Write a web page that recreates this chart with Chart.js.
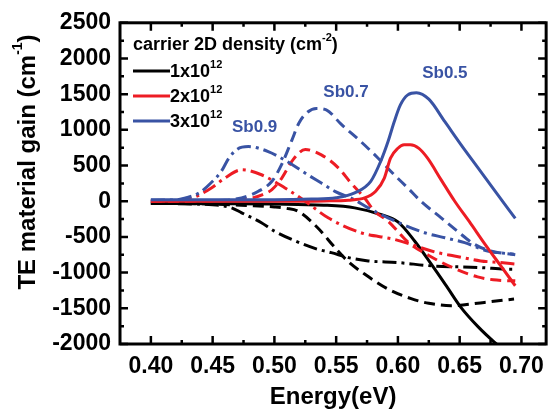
<!DOCTYPE html>
<html>
<head>
<meta charset="utf-8">
<script src="https://cdn.jsdelivr.net/npm/chart.js@4.4.1/dist/chart.umd.min.js"></script>
<style>
body { margin: 0; background: #fff; }
</style>
</head>
<body>
<canvas id="grafico" width="553" height="410"></canvas>
<script>
// eixos
const xTicks = [0.40, 0.45, 0.50, 0.55, 0.60, 0.65, 0.70];
const xTickLabels = ["0.40", "0.45", "0.50", "0.55", "0.60", "0.65", "0.70"];
const yTicks = [-2000, -1500, -1000, -500, 0, 500, 1000, 1500, 2000, 2500];
const yTickLabels = ["-2000", "-1500", "-1000", "-500", "0", "500", "1000", "1500", "2000", "2500"];

// Sb0.5 (linha cheia)
const sb05_n3_e = [0.40, 0.45, 0.50, 0.53, 0.55, 0.565, 0.578, 0.586, 0.592, 0.597, 0.602, 0.608, 0.615, 0.625, 0.638, 0.651, 0.665, 0.68, 0.695];
const sb05_n3_g = [20, 20, 20, 30, 50, 116, 279, 557, 836, 1114, 1350, 1490, 1520, 1430, 1114, 794, 464, 110, -240];
const sb05_n2_e = [0.40, 0.45, 0.50, 0.54, 0.56, 0.573, 0.582, 0.589, 0.594, 0.600, 0.605, 0.610, 0.617, 0.624, 0.635, 0.646, 0.658, 0.67, 0.683, 0.695];
const sb05_n2_g = [0, 0, 0, 5, 15, 46, 140, 325, 603, 742, 790, 790, 740, 603, 300, 0, -290, -590, -900, -1184];
const sb05_n1_e = [0.40, 0.45, 0.50, 0.54, 0.565, 0.586, 0.600, 0.6135, 0.627, 0.640, 0.651, 0.665, 0.678, 0.69];
const sb05_n1_g = [-30, -35, -40, -55, -93, -186, -290, -557, -882, -1207, -1486, -1760, -1974, -2150];

// Sb0.7 (tracejada)
const sb07_n3_e = [0.40, 0.44, 0.46, 0.468, 0.478, 0.487, 0.498, 0.506, 0.514, 0.520, 0.527, 0.534, 0.542, 0.554, 0.570, 0.584, 0.597, 0.608, 0.6186, 0.635, 0.648, 0.662, 0.675, 0.695];
const sb07_n3_g = [10, 10, 15, 28, 70, 139, 280, 520, 850, 1100, 1250, 1300, 1280, 1080, 836, 603, 371, 186, 0, -232, -418, -603, -696, -750];
const sb07_n2_e = [0.40, 0.45, 0.47, 0.482, 0.490, 0.498, 0.506, 0.515, 0.525, 0.538, 0.552, 0.562, 0.573, 0.581, 0.592, 0.608, 0.625, 0.643, 0.6645, 0.68, 0.695];
const sb07_n2_g = [0, 5, 15, 46, 90, 163, 325, 580, 725, 650, 464, 255, 46, -139, -279, -570, -760, -920, -1060, -1105, -1115];
const sb07_n1_e = [0.40, 0.45, 0.48, 0.50, 0.51, 0.519, 0.535, 0.549, 0.56, 0.573, 0.592, 0.6107, 0.625, 0.643, 0.67, 0.694];
const sb07_n1_g = [-20, -40, -60, -80, -100, -139, -371, -650, -850, -1020, -1230, -1365, -1430, -1463, -1417, -1370];

// Sb0.9 (traço-ponto)
const sb09_n3_e = [0.40, 0.42, 0.428, 0.439, 0.450, 0.457, 0.463, 0.470, 0.479, 0.495, 0.511, 0.527, 0.538, 0.549, 0.564, 0.576, 0.592, 0.6215, 0.638, 0.654, 0.6726, 0.694];
const sb09_n3_g = [15, 20, 46, 116, 280, 418, 600, 730, 766, 696, 550, 371, 255, 139, 28, -93, -232, -441, -511, -580, -696, -743];
const sb09_n2_e = [0.40, 0.42, 0.434, 0.449, 0.460, 0.4735, 0.4895, 0.5086, 0.525, 0.5435, 0.570, 0.597, 0.632, 0.6457, 0.667, 0.683, 0.695];
const sb09_n2_g = [0, 10, 50, 186, 325, 441, 371, 186, 0, -232, -441, -534, -720, -766, -836, -859, -880];
const sb09_n1_e = [0.40, 0.45, 0.465, 0.4735, 0.4895, 0.50, 0.517, 0.535, 0.546, 0.56, 0.576, 0.60, 0.627, 0.667, 0.686, 0.695];
const sb09_n1_g = [-30, -50, -90, -162, -302, -418, -557, -673, -720, -790, -836, -859, -905, -929, -952, -955];

const legendaItens = ["1x10", "2x10", "3x10"];
const rotulosSb = [
    { texto: "Sb0.9", x: 0.484, y: 1040 },
    { texto: "Sb0.7", x: 0.558, y: 1530 },
    { texto: "Sb0.5", x: 0.638, y: 1790 }
];

const AZUL = "#3953a4";
const VERMELHO = "#ed1c24";
const PRETO = "#000000";
const FONTE = "'Liberation Sans', Arial, sans-serif";

function pontos(e, g) {
    return e.map((v, i) => ({ x: v, y: g[i] }));
}

function serie(e, g, cor, traco) {
    return {
        data: pontos(e, g),
        borderColor: cor,
        borderWidth: 3,
        borderDash: traco,
        pointRadius: 0,
        fill: false,
        cubicInterpolationMode: "monotone"
    };
}

const TRACEJADO = [11, 6];
const TRACO_PONTO = [14, 5, 3, 5];

function textoSobrescrito(ctx, partes, x, y, tam, peso) {
    let cx = x;
    partes.forEach(p => {
        const t = p.sup ? Math.round(tam * 0.6) : tam;
        ctx.font = (p.peso || peso) + " " + t + "px " + FONTE;
        ctx.fillText(p.t, cx, p.sup ? y - tam * 0.4 : y);
        cx += ctx.measureText(p.t).width;
    });
    return cx - x;
}

function larguraSobrescrito(ctx, partes, tam, peso) {
    let w = 0;
    partes.forEach(p => {
        const t = p.sup ? Math.round(tam * 0.6) : tam;
        ctx.font = (p.peso || peso) + " " + t + "px " + FONTE;
        w += ctx.measureText(p.t).width;
    });
    return w;
}

const moldura = {
    id: "moldura",
    afterDraw(chart) {
        const ctx = chart.ctx;
        const a = chart.chartArea;
        const sx = chart.scales.x;
        const sy = chart.scales.y;
        ctx.save();
        ctx.strokeStyle = PRETO;
        ctx.lineWidth = 3;
        ctx.strokeRect(a.left, a.top, a.right - a.left, a.bottom - a.top);

        // ticks para dentro
        ctx.lineWidth = 2.5;
        ctx.beginPath();
        xTicks.forEach(v => {
            const px = sx.getPixelForValue(v);
            ctx.moveTo(px, a.bottom); ctx.lineTo(px, a.bottom - 8);
            ctx.moveTo(px, a.top); ctx.lineTo(px, a.top + 8);
            const m = v + 0.025;
            if (m < sx.max) {
                const pm = sx.getPixelForValue(m);
                ctx.moveTo(pm, a.bottom); ctx.lineTo(pm, a.bottom - 4);
                ctx.moveTo(pm, a.top); ctx.lineTo(pm, a.top + 4);
            }
        });
        yTicks.forEach(v => {
            const py = sy.getPixelForValue(v);
            ctx.moveTo(a.left, py); ctx.lineTo(a.left + 8, py);
            ctx.moveTo(a.right, py); ctx.lineTo(a.right - 8, py);
            const m = v + 250;
            if (m < sy.max) {
                const pm = sy.getPixelForValue(m);
                ctx.moveTo(a.left, pm); ctx.lineTo(a.left + 4, pm);
                ctx.moveTo(a.right, pm); ctx.lineTo(a.right - 4, pm);
            }
        });
        ctx.stroke();

        // titulo do eixo y
        ctx.fillStyle = PRETO;
        ctx.textBaseline = "middle";
        ctx.textAlign = "left";
        const tituloY = [{ t: "TE material gain (cm" }, { t: "-1", sup: true }, { t: ")" }];
        ctx.save();
        ctx.translate(28, 162);
        ctx.rotate(-Math.PI / 2);
        const wy = larguraSobrescrito(ctx, tituloY, 24, "bold");
        textoSobrescrito(ctx, tituloY, -wy / 2, 0, 24, "bold");
        ctx.restore();

        // legenda
        const tituloLeg = [{ t: "carrier 2D density " }, { t: "(cm" }, { t: "-2", sup: true }, { t: ")" }];
        textoSobrescrito(ctx, tituloLeg, 133, 45, 18, "bold");
        const cores = [PRETO, VERMELHO, AZUL];
        legendaItens.forEach((t, i) => {
            const ly = 71 + i * 25;
            ctx.strokeStyle = cores[i];
            ctx.lineWidth = 3;
            ctx.beginPath();
            ctx.moveTo(133, ly); ctx.lineTo(170, ly);
            ctx.stroke();
            ctx.fillStyle = PRETO;
            textoSobrescrito(ctx, [{ t: t }, { t: "12", sup: true }], 170, ly + 1, 18, "bold");
        });

        // rotulos Sb
        ctx.fillStyle = AZUL;
        ctx.font = "bold 17px " + FONTE;
        ctx.textAlign = "center";
        rotulosSb.forEach(r => {
            ctx.fillText(r.texto, sx.getPixelForValue(r.x), sy.getPixelForValue(r.y));
        });
        ctx.restore();
    }
};

new Chart(document.getElementById("grafico"), {
    type: "line",
    data: {
        datasets: [
            serie(sb05_n3_e, sb05_n3_g, AZUL, []),
            serie(sb05_n2_e, sb05_n2_g, VERMELHO, []),
            serie(sb07_n3_e, sb07_n3_g, AZUL, TRACEJADO),
            serie(sb09_n3_e, sb09_n3_g, AZUL, TRACO_PONTO),
            serie(sb07_n2_e, sb07_n2_g, VERMELHO, TRACEJADO),
            serie(sb09_n2_e, sb09_n2_g, VERMELHO, TRACO_PONTO),
            serie(sb05_n1_e, sb05_n1_g, PRETO, []),
            serie(sb07_n1_e, sb07_n1_g, PRETO, TRACEJADO),
            serie(sb09_n1_e, sb09_n1_g, PRETO, TRACO_PONTO)
        ]
    },
    options: {
        responsive: false,
        animation: false,
        events: [],
        layout: { padding: { top: 21, right: 3, left: 0, bottom: 0 } },
        plugins: {
            legend: { display: false },
            tooltip: { enabled: false }
        },
        scales: {
            x: {
                type: "linear",
                min: 0.375,
                max: 0.72,
                afterBuildTicks: function (s) {
                    s.ticks = xTicks.map(v => ({ value: v }));
                },
                afterFit: function (s) { s.height = 66; },
                grid: { display: false, drawTicks: false },
                border: { display: false },
                ticks: {
                    padding: 9,
                    color: PRETO,
                    font: { family: FONTE, size: 23, weight: "bold" },
                    maxRotation: 0,
                    autoSkip: false,
                    callback: function (v) {
                        const i = xTicks.findIndex(t => Math.abs(t - v) < 1e-6);
                        return i >= 0 ? xTickLabels[i] : "";
                    }
                },
                title: {
                    display: true,
                    text: "Energy(eV)",
                    color: PRETO,
                    font: { family: FONTE, size: 24, weight: "bold" },
                    padding: { top: 0, bottom: -2 }
                }
            },
            y: {
                type: "linear",
                min: -2000,
                max: 2500,
                afterBuildTicks: function (s) {
                    s.ticks = yTicks.map(v => ({ value: v }));
                },
                afterFit: function (s) { s.width = 120; },
                grid: { display: false, drawTicks: false },
                border: { display: false },
                ticks: {
                    padding: 9,
                    color: PRETO,
                    font: { family: FONTE, size: 23, weight: "bold" },
                    autoSkip: false,
                    callback: function (v) {
                        const i = yTicks.indexOf(v);
                        return i >= 0 ? yTickLabels[i] : "";
                    }
                }
            }
        }
    },
    plugins: [moldura]
});
</script>
</body>
</html>
